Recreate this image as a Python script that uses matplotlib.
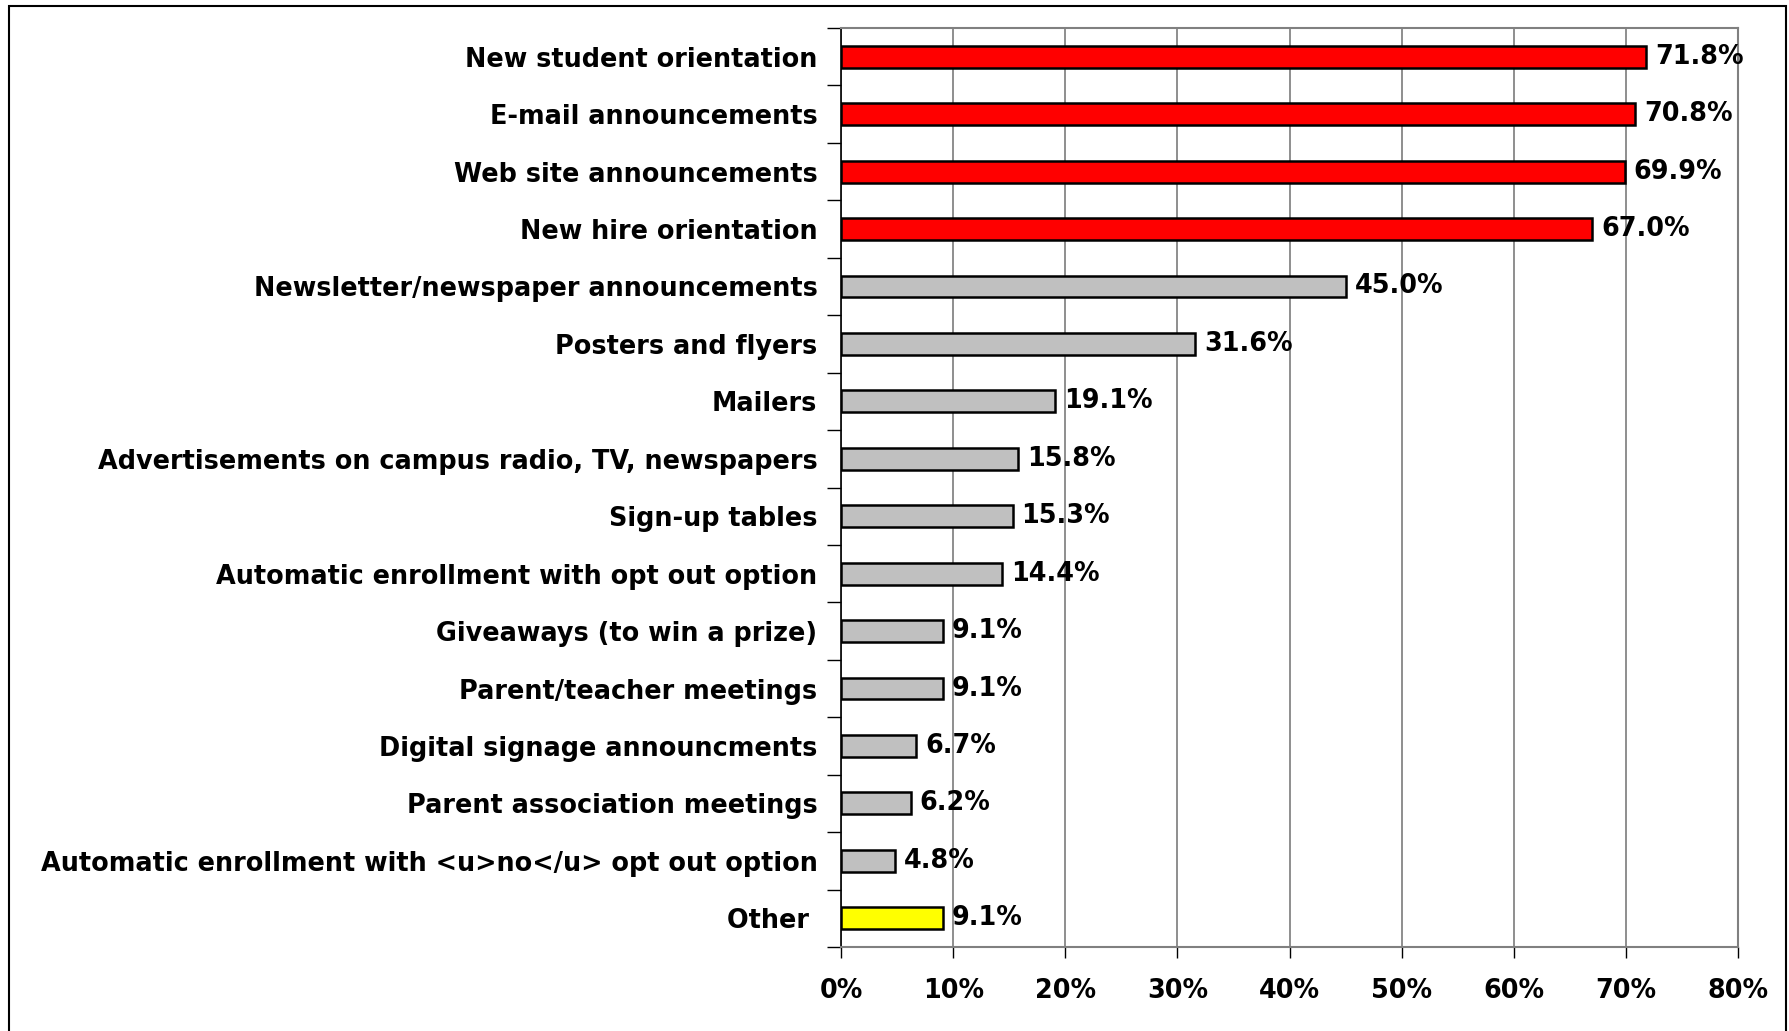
import matplotlib.pyplot as plt
from matplotlib.patches import Rectangle
from matplotlib.ticker import FuncFormatter

# Survey data (top to bottom)
categories = [
    "New student orientation",
    "E-mail announcements",
    "Web site announcements",
    "New hire orientation",
    "Newsletter/newspaper announcements",
    "Posters and flyers",
    "Mailers",
    "Advertisements on campus radio, TV, newspapers",
    "Sign-up tables",
    "Automatic enrollment with opt out option",
    "Giveaways (to win a prize)",
    "Parent/teacher meetings",
    "Digital signage announcments",
    "Parent association meetings",
    "Automatic enrollment with <u>no</u> opt out option",
    "Other ",
]
values = [71.8, 70.8, 69.9, 67.0, 45.0, 31.6, 19.1, 15.8, 15.3, 14.4,
          9.1, 9.1, 6.7, 6.2, 4.8, 9.1]
colors = ["#FF0000"] * 4 + ["#C0C0C0"] * 11 + ["#FFFF00"]
x_ticks = [0, 10, 20, 30, 40, 50, 60, 70, 80]

plt.rcParams["font.family"] = ["DejaVu Sans"]
plt.rcParams["font.weight"] = "bold"
FS = 18.4

fig = plt.figure(figsize=(17.89, 10.31), dpi=100)
ax = fig.add_axes([841 / 1789, 1 - 947 / 1031, (1738 - 841) / 1789, (947 - 28) / 1031])

n = len(categories)
ypos = list(range(n))

# Gridlines
ax.set_axisbelow(True)
ax.grid(axis="x", color="#707070", linewidth=1.1)

ax.barh(ypos, values, height=0.38, color=colors, edgecolor="black", linewidth=1.8)

for y, v in zip(ypos, values):
    ax.text(v + 0.8, y, f"{v:.1f}%", va="center", ha="left",
            fontsize=FS, fontweight="bold")

ax.set_xlim(0, 80)
ax.set_ylim(n - 0.5, -0.5)
ax.set_xticks(x_ticks)
ax.xaxis.set_major_formatter(FuncFormatter(lambda v, p: f"{v:.0f}%"))
ax.tick_params(axis="x", length=8, width=1, color="black", pad=14, labelsize=FS)

ax.set_yticks(ypos)
ax.set_yticklabels(categories, fontsize=FS, fontweight="bold")
ax.set_yticks([i - 0.5 for i in range(n + 1)], minor=True)
ax.tick_params(axis="y", which="major", length=0, pad=17)
ax.tick_params(axis="y", which="minor", length=10, width=1, direction="out")

for t in ax.get_xticklabels():
    t.set_fontweight("bold")

ax.spines["left"].set_color("black")
ax.spines["left"].set_linewidth(1.2)
for s in ["top", "right", "bottom"]:
    ax.spines[s].set_color("#808080")
    ax.spines[s].set_linewidth(1.5)

# Outer chart border
fig.patches.append(Rectangle((9 / 1789, -0.02), (1786 - 9) / 1789, 1.02 - 6 / 1031,
                             transform=fig.transFigure, fill=False,
                             edgecolor="black", linewidth=1.5))

fig.savefig("out.png", dpi=100)
